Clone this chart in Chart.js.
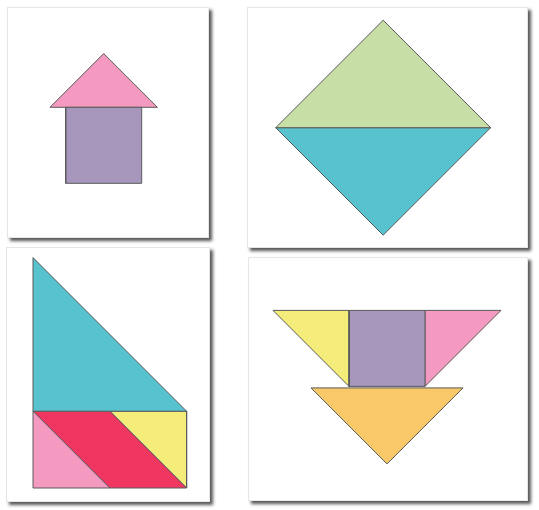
<!DOCTYPE html>
<html>
<head>
<meta charset="utf-8">
<script src="https://cdn.jsdelivr.net/npm/chart.js@4"></script>
<style>
  body { margin: 0; background: #fff; width: 539px; height: 510px; position: relative; overflow: hidden; }
  .card { position: absolute; background: #fff; border: 1px solid #e6e6e6; box-shadow: 3px 3px 3px rgba(60,60,60,0.85); }
  .card canvas { display: block; }
</style>
</head>
<body>
<div class="card" style="left:7px;top:7px;"><canvas id="house" width="200" height="229"></canvas></div>
<div class="card" style="left:247px;top:7px;"><canvas id="diamond" width="279" height="239"></canvas></div>
<div class="card" style="left:6px;top:247px;"><canvas id="sail" width="202" height="253"></canvas></div>
<div class="card" style="left:248px;top:257px;"><canvas id="cup" width="278" height="242"></canvas></div>
<script>
// Tangram pieces, vertices in tangram units (square side = 1)
const houseRoof   = [[-0.207, 1], [1.207, 1], [0.5, 1.707]];
const houseSquare = [[0, 0], [1, 0], [1, 1], [0, 1]];

const diamondTop    = [[0, 0], [2.828, 0], [1.414, 1.414]];
const diamondBottom = [[0, 0], [2.828, 0], [1.414, -1.414]];

const sailBig    = [[0, 1], [0, 3], [2, 1]];
const sailSmall  = [[0, 0], [0, 1], [1, 0]];
const sailPara   = [[0, 1], [1, 1], [2, 0], [1, 0]];
const sailSmall2 = [[1, 1], [2, 1], [2, 0]];

const cupLeft   = [[-1, 1], [0, 1], [0, 0]];
const cupSquare = [[0, 0], [1, 0], [1, 1], [0, 1]];
const cupRight  = [[1, 1], [2, 1], [1, 0]];
const cupBase   = [[-0.5, -0.02], [1.5, -0.02], [0.5, -1.02]];

const PINK = '#f49ac0', LILAC = '#a797bd', GREEN = '#c7dfa6', TEAL = '#58c3cf',
      RED = '#f23662', YELLOW = '#f5ed79', ORANGE = '#f8c869', EDGE = '#5a5a5a';

const U = 76; // pixels per tangram unit

function piece(pts, color) {
  const data = pts.map(p => ({ x: p[0], y: p[1] }));
  data.push({ x: pts[0][0], y: pts[0][1] }); // close the shape
  return {
    data: data,
    showLine: true,
    fill: 'shape',
    backgroundColor: color,
    borderColor: EDGE,
    borderWidth: 1,
    borderJoinStyle: 'miter',
    pointRadius: 0,
    tension: 0
  };
}

function drawPanel(id, pieces, ox, oy, unit) {
  const canvas = document.getElementById(id);
  const w = canvas.width, h = canvas.height;
  const u = unit || U;
  new Chart(canvas, {
    type: 'scatter',
    data: { datasets: pieces },
    options: {
      responsive: false,
      animation: false,
      devicePixelRatio: 1,
      layout: { padding: 0 },
      plugins: { legend: { display: false }, tooltip: { enabled: false } },
      scales: {
        x: { type: 'linear', display: false, min: -ox / u, max: (w - ox) / u },
        y: { type: 'linear', display: false, min: -(h - oy) / u, max: oy / u }
      }
    }
  });
}

drawPanel('house', [piece(houseSquare, LILAC), piece(houseRoof, PINK)], 57.7, 175.3);
drawPanel('diamond', [piece(diamondTop, GREEN), piece(diamondBottom, TEAL)], 27.7, 119.7);
drawPanel('sail', [piece(sailBig, TEAL), piece(sailSmall, PINK), piece(sailPara, RED), piece(sailSmall2, YELLOW)], 26, 240, 76.8);
drawPanel('cup', [piece(cupLeft, YELLOW), piece(cupSquare, LILAC), piece(cupRight, PINK), piece(cupBase, ORANGE)], 100, 128.4);
</script>
</body>
</html>
